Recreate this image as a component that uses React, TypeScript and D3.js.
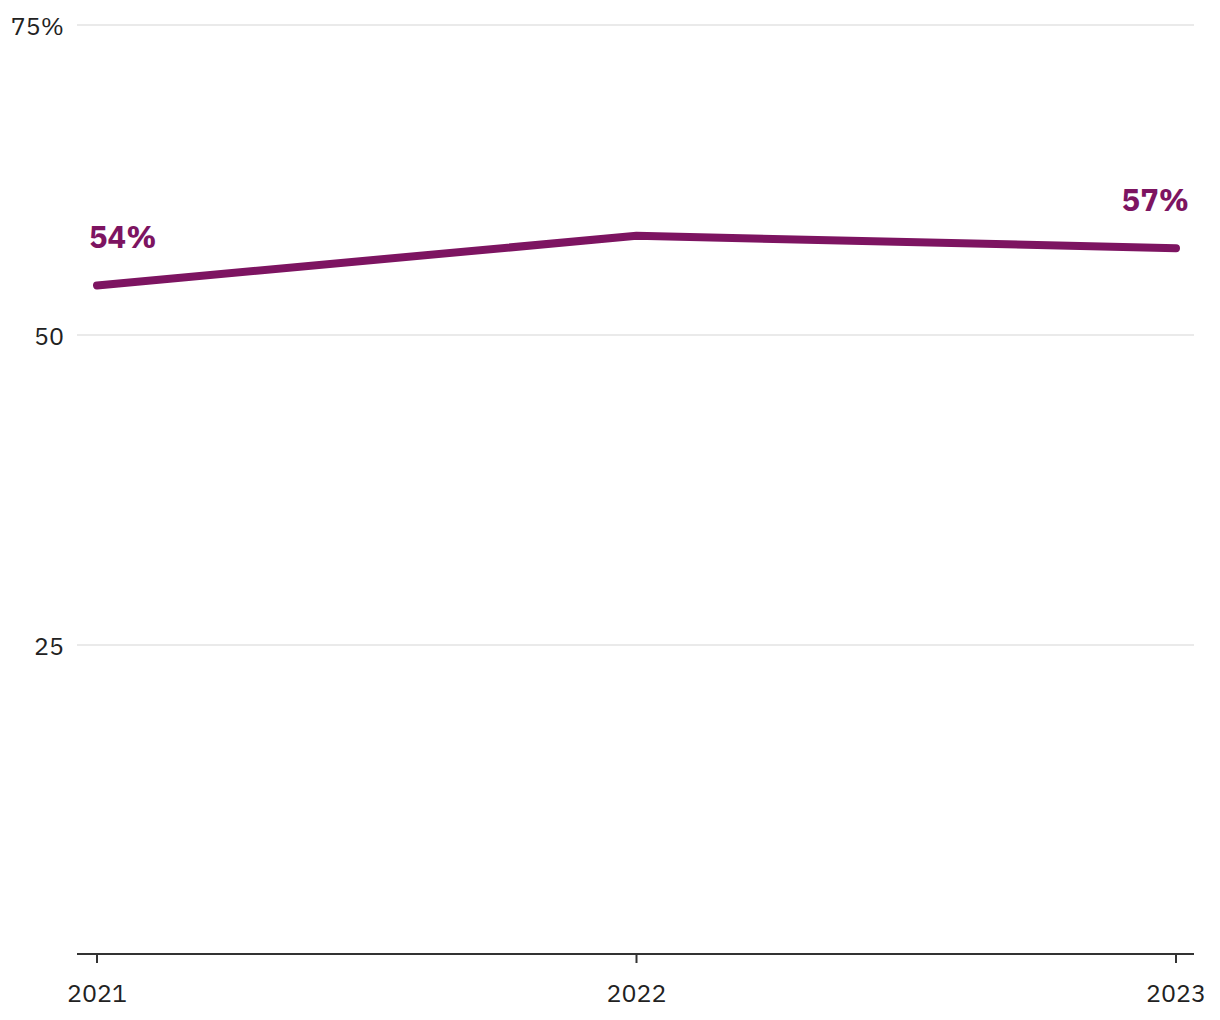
import React from "react";
import * as d3 from "d3";

const years = [2021, 2022, 2023];
const values = [54, 58, 57];
const yTicks = [25, 50, 75];
const color = "#7d1461";

export default function App() {
  const W = 1220, H = 1020;
  const x = d3.scalePoint<number>().domain(years).range([97, 1176]);
  const y = d3.scaleLinear().domain([0, 75]).range([955, 25]);
  const line = d3.line<number>().x((_, i) => x(years[i])!).y((d) => y(d));
  const font = "'IBM Plex Sans', 'Noto Sans', 'Open Sans', sans-serif";
  const last = values.length - 1;
  return (
    <svg width={W} height={H} style={{ position: "absolute", left: 0, top: 0, background: "#fff" }} fontFamily={font}>
      {yTicks.map((t) => (
        <g key={t}>
          <line x1={77} x2={1194} y1={y(t)} y2={y(t)} stroke="#e3e3e3" strokeWidth={1.5} />
          <text x={64} y={y(t) + 10} textAnchor="end" fontSize={25} fill="#222">
            {t === 75 ? "75%" : t}
          </text>
        </g>
      ))}
      <line x1={77} x2={1194} y1={954} y2={954} stroke="#333" strokeWidth={2} />
      {years.map((yr) => (
        <g key={yr}>
          <line x1={x(yr)} x2={x(yr)} y1={954} y2={963} stroke="#333" strokeWidth={2} />
          <text x={x(yr)} y={1002} textAnchor="middle" fontSize={25} fill="#222">
            {yr}
          </text>
        </g>
      ))}
      <path d={line(values)!} fill="none" stroke={color} strokeWidth={8} strokeLinecap="round" strokeLinejoin="round" />
      <text x={x(years[0])! - 8} y={y(values[0]) - 37} fontSize={31} fontWeight={700} fill={color}>
        {values[0]}%
      </text>
      <text x={x(years[last])! + 13} y={y(values[last]) - 37} textAnchor="end" fontSize={31} fontWeight={700} fill={color}>
        {values[last]}%
      </text>
    </svg>
  );
}
